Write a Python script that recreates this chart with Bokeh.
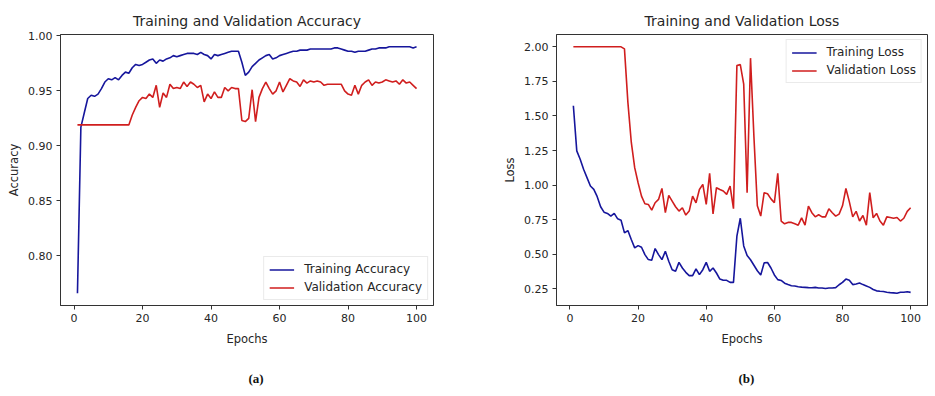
from bokeh.plotting import figure
from bokeh.layouts import row
from bokeh.models import FixedTicker, NumeralTickFormatter, Title, Legend, LegendItem, Range1d
from bokeh.embed import file_html
from bokeh.resources import INLINE

epochs = list(range(1, 101))

train_acc = [
    0.766, 0.917, 0.930, 0.943, 0.946, 0.945, 0.947, 0.952, 0.958, 0.961,
    0.960, 0.962, 0.960, 0.964, 0.967, 0.966, 0.971, 0.974, 0.973, 0.974,
    0.976, 0.978, 0.979, 0.975, 0.978, 0.977, 0.979, 0.980, 0.982, 0.981,
    0.982, 0.983, 0.984, 0.984, 0.984, 0.983, 0.985, 0.983, 0.982, 0.979,
    0.983, 0.982, 0.983, 0.984, 0.985, 0.986, 0.986, 0.986, 0.976, 0.964,
    0.967, 0.972, 0.975, 0.978, 0.980, 0.982, 0.983, 0.979, 0.980, 0.982,
    0.983, 0.984, 0.985, 0.986, 0.986, 0.987, 0.987, 0.987, 0.988, 0.988,
    0.988, 0.988, 0.988, 0.988, 0.988, 0.989, 0.989, 0.988, 0.987, 0.986,
    0.986, 0.985, 0.986, 0.986, 0.986, 0.987, 0.988, 0.988, 0.989, 0.989,
    0.989, 0.990, 0.990, 0.990, 0.990, 0.990, 0.990, 0.990, 0.989, 0.990,
]
val_acc = [
    0.919, 0.919, 0.919, 0.919, 0.919, 0.919, 0.919, 0.919, 0.919, 0.919,
    0.919, 0.919, 0.919, 0.919, 0.919, 0.919, 0.928, 0.935, 0.941, 0.944,
    0.943, 0.947, 0.944, 0.955, 0.935, 0.948, 0.944, 0.956, 0.952, 0.953,
    0.952, 0.958, 0.954, 0.958, 0.956, 0.953, 0.955, 0.940, 0.947, 0.943,
    0.949, 0.944, 0.944, 0.953, 0.950, 0.953, 0.952, 0.952, 0.923, 0.922,
    0.925, 0.951, 0.922, 0.944, 0.952, 0.958, 0.952, 0.947, 0.950, 0.958,
    0.949, 0.955, 0.961, 0.959, 0.958, 0.954, 0.960, 0.957, 0.959, 0.958,
    0.959, 0.958, 0.955, 0.956, 0.956, 0.956, 0.956, 0.956, 0.950, 0.947,
    0.946, 0.955, 0.947, 0.955, 0.958, 0.960, 0.955, 0.958, 0.957, 0.958,
    0.960, 0.959, 0.958, 0.959, 0.956, 0.960, 0.957, 0.958, 0.955, 0.952,
]
train_loss = [
    1.574, 1.247, 1.187, 1.114, 1.054, 0.993, 0.969, 0.916, 0.843, 0.804,
    0.795, 0.775, 0.795, 0.756, 0.746, 0.654, 0.671, 0.606, 0.546, 0.562,
    0.550, 0.497, 0.461, 0.456, 0.541, 0.497, 0.461, 0.521, 0.449, 0.388,
    0.376, 0.441, 0.400, 0.369, 0.345, 0.345, 0.393, 0.352, 0.388, 0.441,
    0.376, 0.400, 0.364, 0.320, 0.311, 0.311, 0.296, 0.296, 0.630, 0.760,
    0.560, 0.490, 0.460, 0.420, 0.380, 0.350, 0.437, 0.440, 0.400, 0.350,
    0.316, 0.310, 0.290, 0.280, 0.272, 0.270, 0.265, 0.262, 0.260, 0.258,
    0.257, 0.260, 0.255, 0.255, 0.252, 0.255, 0.255, 0.258, 0.279, 0.296,
    0.320, 0.311, 0.280, 0.285, 0.291, 0.280, 0.270, 0.260, 0.245, 0.235,
    0.232, 0.230, 0.225, 0.222, 0.220, 0.218, 0.225, 0.225, 0.228, 0.224,
]
val_loss = [
    2.000, 2.000, 2.000, 2.000, 2.000, 2.000, 2.000, 2.000, 2.000, 2.000,
    2.000, 2.000, 2.000, 2.000, 2.000, 1.985, 1.600, 1.310, 1.126, 1.017,
    0.920, 0.865, 0.860, 0.819, 0.872, 0.896, 0.976, 0.800, 0.925, 0.884,
    0.843, 0.812, 0.836, 0.783, 0.812, 0.920, 0.872, 0.968, 1.005, 0.860,
    1.085, 0.792, 0.981, 0.968, 0.957, 0.933, 0.993, 0.829, 1.864, 1.872,
    1.730, 0.945, 1.918, 1.350, 0.850, 0.776, 0.945, 0.937, 0.900, 0.872,
    1.085, 0.740, 0.720, 0.730, 0.730, 0.720, 0.710, 0.763, 0.710, 0.848,
    0.800, 0.770, 0.785, 0.770, 0.770, 0.829, 0.800, 0.775, 0.790, 0.850,
    0.975, 0.880, 0.770, 0.810, 0.740, 0.780, 0.710, 0.945, 0.763, 0.795,
    0.740, 0.710, 0.770, 0.765, 0.760, 0.765, 0.740, 0.760, 0.810, 0.836,
]

epoch_ticks = [0, 20, 40, 60, 80, 100]
acc_ticks = [0.80, 0.85, 0.90, 0.95, 1.00]
loss_ticks = [0.25, 0.50, 0.75, 1.00, 1.25, 1.50, 1.75, 2.00]

BLUE = "#16169c"
RED = "#d01e1e"
TXT = "#262626"
FONT = "DejaVu Sans"


def padded(lo, hi):
    m = (hi - lo) * 0.05
    return Range1d(lo - m, hi + m)


def panel(title, ylabel, s1, s2, names, yticks, legend_loc, sub, sub_off,
          bl, br, fw, bt):
    ys = s1 + s2
    p = figure(frame_width=fw, frame_height=271, output_backend="svg",
               toolbar_location=None, title=title,
               x_range=padded(min(epochs), max(epochs)),
               y_range=padded(min(ys), max(ys)),
               min_border_left=bl, min_border_right=br,
               min_border_top=bt, min_border_bottom=90)
    p.title.text_font = FONT
    p.title.text_font_size = "14px"
    p.title.text_font_style = "normal"
    p.title.text_color = TXT
    p.title.align = "center"
    p.title.standoff = 12
    p.grid.visible = False
    p.outline_line_color = "#333333"
    p.outline_line_width = 1
    for ax in (p.xaxis[0], p.yaxis[0]):
        ax.axis_line_color = "#333333"
        ax.major_tick_line_color = "#333333"
        ax.major_tick_out = 4
        ax.major_tick_in = 0
        ax.minor_tick_line_color = None
        ax.major_label_text_font = FONT
        ax.major_label_text_font_size = "11px"
        ax.major_label_text_color = TXT
        ax.axis_label_text_font = FONT
        ax.axis_label_text_font_size = "11.5px"
        ax.axis_label_text_font_style = "normal"
        ax.axis_label_text_color = TXT
        ax.major_label_standoff = 4
    p.xaxis.ticker = FixedTicker(ticks=epoch_ticks)
    p.yaxis.ticker = FixedTicker(ticks=yticks)
    p.yaxis.formatter = NumeralTickFormatter(format="0.00")
    p.xaxis.axis_label = "Epochs"
    p.yaxis.axis_label = ylabel
    p.xaxis.axis_label_standoff = 7
    p.yaxis.axis_label_standoff = 4
    r1 = p.line(epochs, s1, line_color=BLUE, line_width=1.6)
    r2 = p.line(epochs, s2, line_color=RED, line_width=1.6)
    leg = Legend(items=[LegendItem(label=names[0], renderers=[r1]),
                        LegendItem(label=names[1], renderers=[r2])],
                 location=legend_loc, margin=5, padding=5, spacing=4,
                 label_text_font=FONT, label_text_font_size="12px",
                 label_text_color=TXT, glyph_width=25, glyph_height=13,
                 label_height=13, label_standoff=10,
                 border_line_color="#d6d6d6", border_line_width=1,
                 background_fill_alpha=0.85)
    p.add_layout(leg, "center")
    p.add_layout(Title(text=sub, align="left", offset=sub_off,
                       text_font="Liberation Serif",
                       text_font_style="bold", text_font_size="13px",
                       text_color="#111111", standoff=41), "below")
    return p


p1 = panel("Training and Validation Accuracy", "Accuracy", train_acc, val_acc,
           ["Training Accuracy", "Validation Accuracy"], acc_ticks,
           "bottom_right", "(a)", 188, 60, 30, 373, 34)
p2 = panel("Training and Validation Loss", "Loss", train_loss, val_loss,
           ["Training Loss", "Validation Loss"], loss_ticks,
           "top_right", "(b)", 182, 93, 1, 371, 31)

layout = row(p1, p2)
open("out.html", "w").write(file_html(layout, INLINE))
